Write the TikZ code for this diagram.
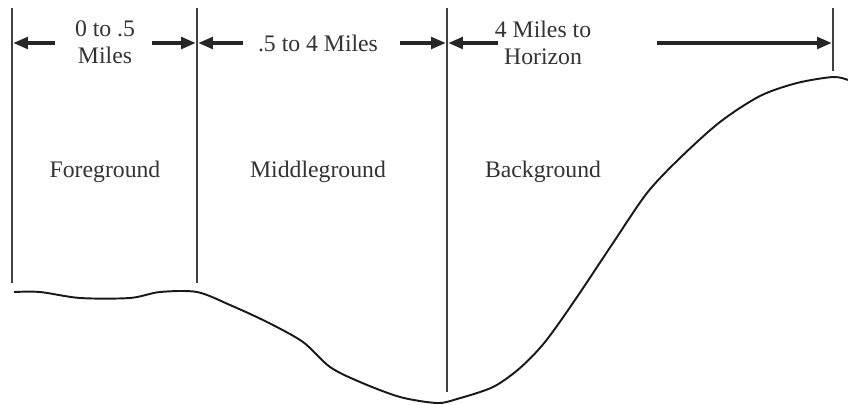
\documentclass[tikz,border=0pt]{standalone}
\usepackage{fontspec}
\setmainfont{Liberation Serif}
\usetikzlibrary{arrows.meta}

\begin{document}
\begin{tikzpicture}[
  x=0.02cm, y=-0.02cm,
  font=\fontsize{13.5}{15.5}\selectfont,
  zone/.style={text=black!80, inner sep=1pt},
  span/.style={text=black!80, align=center, inner sep=1pt},
  tick/.style={draw=black!75, line width=0.8pt},
  dimarr/.style={-{Triangle[length=8.5pt, width=6.5pt]}, line width=2.4pt, black!85},
  ground/.style={draw=black!90, line width=1.1pt, line join=round},
]
\useasboundingbox (0,0) rectangle (848,405);

% ---- tick lines
\coordinate (t0) at (12,8);  \coordinate (b0) at (12,283);
\coordinate (t1) at (197,8); \coordinate (b1) at (197,283);
\coordinate (t2) at (447,8); \coordinate (b2) at (447,392);
\coordinate (t3) at (833,8); \coordinate (b3) at (833,71);
\draw[tick] (t0) -- (b0);
\draw[tick] (t1) -- (b1);
\draw[tick] (t2) -- (b2);
\draw[tick] (t3) -- (b3);

% ---- distance labels
\node[span] (s1) at (105,42) {0 to .5\\Miles};
\node[span] (s2) at (318,43) {.5 to 4 Miles};
\node[span] (s3) at (543,43) {4 Miles to\\Horizon};

% ---- arrows
\coordinate (a1l) at (55,43);  \coordinate (e1l) at (13,43);
\coordinate (a1r) at (152,43); \coordinate (e1r) at (196,43);
\coordinate (a2l) at (243,43); \coordinate (e2l) at (198,43);
\coordinate (a2r) at (400,43); \coordinate (e2r) at (446,43);
\coordinate (a3l) at (498,43); \coordinate (e3l) at (448,43);
\coordinate (a3r) at (657,43); \coordinate (e3r) at (832,43);
\foreach \i in {1,2,3} {
  \draw[dimarr] (a\i l) -- (e\i l);
  \draw[dimarr] (a\i r) -- (e\i r);
}

% ---- zones
\node[zone] (fg) at (105,172) {Foreground};
\node[zone] (mg) at (318,172) {Middleground};
\node[zone] (bg) at (543,172) {Background};

% ---- terrain
\draw[ground] plot[smooth, tension=0.5] coordinates {
  (14,292) (40,292) (80,298) (130,298) (160,292) (197,292)
  (230,305) (267,322) (303,342) (330,367) (360,382) (400,397)
  (437,403) (457,399) (493,387) (520,368) (545,342) (575,300)
  (613,243) (647,193) (680,158) (720,122) (760,96) (797,83)
  (833,77) (848,80)};
\end{tikzpicture}
\end{document}
